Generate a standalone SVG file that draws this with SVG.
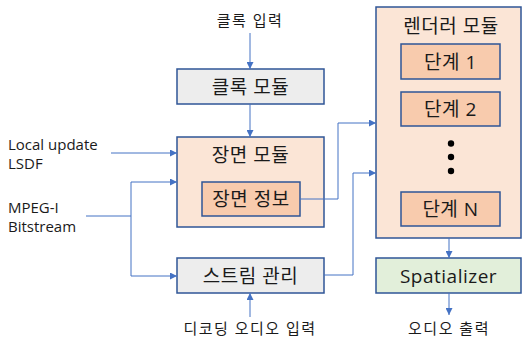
<svg xmlns="http://www.w3.org/2000/svg" width="522" height="343" viewBox="0 0 522 343">
<style>
text{font-family:"Open Sans","Noto Sans CJK KR",sans-serif;fill:#1a1a1a;}
.lbl{font-size:15px;}
.kl{letter-spacing:1.5px;}
.box{font-size:19px;text-anchor:middle;letter-spacing:0.5px;}
.b{stroke:#2F5597;stroke-width:1.5;}
.gray{fill:#EDEDED;}
.peach{fill:#FBE5D6;}
.dk{fill:#F8CBAD;}
.green{fill:#E2EFDA;}
.c{fill:none;stroke:#4472C4;stroke-width:1;}
</style>
<defs>
<marker id="ah" viewBox="0 0 10 10" refX="10" refY="5" markerWidth="7" markerHeight="7" markerUnits="userSpaceOnUse" orient="auto">
<path d="M0,0 L10,5 L0,10 Z" fill="#4472C4"/>
</marker>
</defs>
<rect width="522" height="343" fill="#ffffff"/>
<g id="clock-input"><text class="lbl kl" x="250" y="26" text-anchor="middle">클록 입력</text></g>
<g id="local-update"><text class="lbl" x="8" y="150">Local update</text><text class="lbl" x="8" y="169">LSDF</text></g>
<g id="mpeg"><text class="lbl" x="8" y="213">MPEG-I</text><text class="lbl" x="8" y="232">Bitstream</text></g>
<g id="decoding-input"><text class="lbl kl" x="250" y="334" text-anchor="middle">디코딩 오디오 입력</text></g>
<g id="audio-output"><text class="lbl kl" x="449" y="334" text-anchor="middle">오디오 출력</text></g>
<g id="clock-module"><rect class="b gray" x="177" y="69" width="147" height="35"/><text class="box" x="250.5" y="94">클록 모듈</text></g>
<g id="scene-module"><rect class="b peach" x="177" y="137" width="147" height="90"/><text class="box" x="250.5" y="162">장면 모듈</text></g>
<g id="scene-info"><rect class="b dk" x="202" y="182" width="98" height="34"/><text class="box" x="251" y="206">장면 정보</text></g>
<g id="stream-mgmt"><rect class="b gray" x="177" y="258" width="147" height="35"/><text class="box" x="250.5" y="283">스트림 관리</text></g>
<g id="renderer-module"><rect class="b peach" x="376" y="7" width="145" height="231"/><text class="box" x="451" y="33">렌더러 모듈</text></g>
<g id="stage1"><rect class="b dk" x="401" y="44" width="99" height="35"/><text class="box" x="450.5" y="69">단계 1</text></g>
<g id="stage2"><rect class="b dk" x="401" y="92" width="99" height="34"/><text class="box" x="450.5" y="116">단계 2</text></g>
<g id="dots"><circle cx="451" cy="143.5" r="3.2" fill="#000"/><circle cx="451" cy="157" r="3.2" fill="#000"/><circle cx="451" cy="171" r="3.2" fill="#000"/></g>
<g id="stageN"><rect class="b dk" x="401" y="192" width="99" height="34"/><text class="box" x="450.5" y="216">단계 N</text></g>
<g id="spatializer"><rect class="b green" x="376" y="258" width="145" height="35"/><text class="box" x="448.5" y="283">Spatializer</text></g>
<g id="connectors">
<path class="c" d="M250,33 V69" marker-end="url(#ah)"/>
<path class="c" d="M250,104 V137" marker-end="url(#ah)"/>
<path class="c" d="M111,153 H177" marker-end="url(#ah)"/>
<path class="c" d="M86,216 H131 V182 H177" marker-end="url(#ah)"/>
<path class="c" d="M131,216 V276 H177" marker-end="url(#ah)"/>
<path class="c" d="M250,317 V293" marker-end="url(#ah)"/>
<path class="c" d="M300,199 H338 V123 H376" marker-end="url(#ah)"/>
<path class="c" d="M324,275 H353 V173 H376" marker-end="url(#ah)"/>
<path class="c" d="M449,238 V258" marker-end="url(#ah)"/>
<path class="c" d="M449,293 V315" marker-end="url(#ah)"/>
</g>
</svg>
